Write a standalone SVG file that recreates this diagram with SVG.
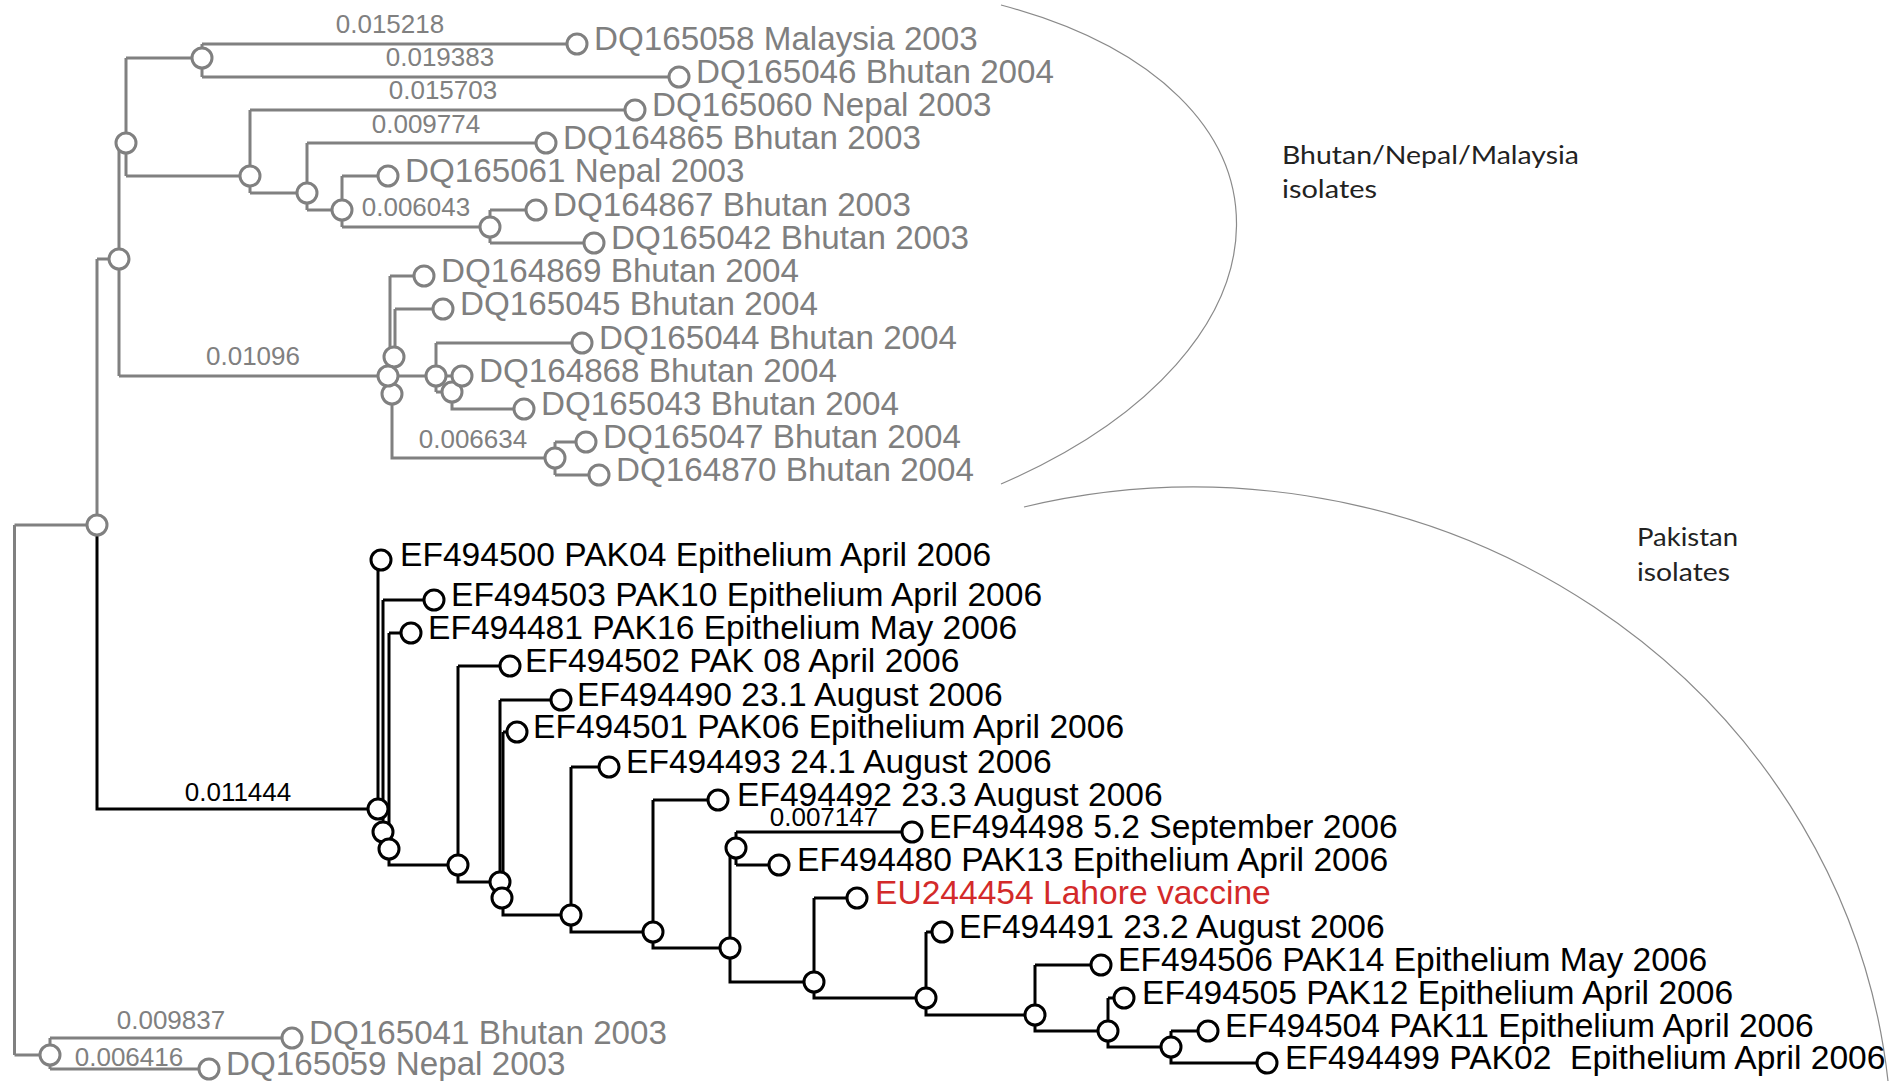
<svg xmlns="http://www.w3.org/2000/svg" width="1901" height="1081" viewBox="0 0 1901 1081">
<style>
.lg{fill:none;stroke:#808080;stroke-width:3}
.lb{fill:none;stroke:#000;stroke-width:3}
.ng{fill:#fff;stroke:#808080;stroke-width:3}
.nb{fill:#fff;stroke:#000;stroke-width:3}
.tg{font-family:"Liberation Sans",Arial,sans-serif;font-size:33.2px;fill:#7f7f7f}
.tb{font-family:"Liberation Sans",Arial,sans-serif;font-size:33.6px;fill:#000}
.tr{font-family:"Liberation Sans",Arial,sans-serif;font-size:33.6px;fill:#d32a2a}
.blg{font-family:"Liberation Sans",Arial,sans-serif;font-size:26px;fill:#808080;text-anchor:middle}
.blb{font-family:"Liberation Sans",Arial,sans-serif;font-size:26px;fill:#000;text-anchor:middle}
.arc{fill:none;stroke:#8a8a8a;stroke-width:1.2}
.grp{font-family:"Lato","Liberation Sans",sans-serif;font-weight:400;font-size:25px;fill:#222}
</style>
<rect width="1901" height="1081" fill="#fff"/>
<g id="group-outlines">
<path class="arc" d="M1001,5 C1320,90 1310,350 1001,484"/>
<path class="arc" d="M1024,507 A698,663 0 0,1 1888,1081"/>
</g>
<g id="connectors">
<path class="lg" d="M14.5,525 V1055 M14.5,525 H97 M14.5,1055 H50"/>
<path class="lg" d="M97,259 V525 M97,259 H119"/>
<path class="lg" d="M119,143 V376 M119,143 H126 M119,376 H388"/>
<path class="lg" d="M126,58 V176 M126,58 H202 M126,176 H250"/>
<path class="lg" d="M202,44 V77 M202,44 H577 M202,77 H679"/>
<path class="lg" d="M250,110 V193 M250,110 H635 M250,193 H307"/>
<path class="lg" d="M307,143 V210 M307,143 H546 M307,210 H342"/>
<path class="lg" d="M342,176 V227 M342,176 H388 M342,227 H490"/>
<path class="lg" d="M490,210 V243 M490,210 H536 M490,243 H594"/>
<path class="lg" d="M390,276 V376 M390,276 H424"/>
<path class="lg" d="M395,309 V357 M395,309 H443"/>
<path class="lg" d="M388,376 H436"/>
<path class="lg" d="M392,392 V458 H555"/>
<path class="lg" d="M436,343 V392 M436,343 H582 M436,376 H462 M436,392 H452"/>
<path class="lg" d="M452,392 V409 H524"/>
<path class="lg" d="M555,442 V475 M555,442 H586 M555,475 H599"/>
<path class="lg" d="M50,1038 V1069 M50,1038 H292 M50,1069 H209"/>
<path class="lb" d="M97,525 V809 H378"/>
<path class="lb" d="M378,560 V809"/>
<path class="lb" d="M383,600 V832 M383,600 H434"/>
<path class="lb" d="M389,633 V865 H458 M389,633 H411"/>
<path class="lb" d="M458,666 V882 H500 M458,666 H510"/>
<path class="lb" d="M500,700 V898 M500,700 H561"/>
<path class="lb" d="M503,732 V915 H571 M503,732 H517"/>
<path class="lb" d="M571,767 V932 H653 M571,767 H609"/>
<path class="lb" d="M653,800 V948 H730 M653,800 H718"/>
<path class="lb" d="M730,848 V982 H814 M730,848 H736"/>
<path class="lb" d="M736,832 V865 M736,832 H912 M736,865 H779"/>
<path class="lb" d="M814,898 V998 H926 M814,898 H857"/>
<path class="lb" d="M926,932 V1015 H1035 M926,932 H942"/>
<path class="lb" d="M1035,965 V1031 H1108 M1035,965 H1101"/>
<path class="lb" d="M1108,998 V1047 H1171 M1108,998 H1124"/>
<path class="lb" d="M1171,1031 V1063 H1267 M1171,1031 H1208"/>
</g>
<g id="branch-labels">
<text class="blg" x="390" y="33">0.015218</text>
<text class="blg" x="440" y="66">0.019383</text>
<text class="blg" x="443" y="99">0.015703</text>
<text class="blg" x="426" y="133">0.009774</text>
<text class="blg" x="416" y="216">0.006043</text>
<text class="blg" x="253" y="365">0.01096</text>
<text class="blg" x="473" y="448">0.006634</text>
<text class="blg" x="171" y="1029">0.009837</text>
<text class="blg" x="129" y="1066">0.006416</text>
<text class="blb" x="238" y="801">0.011444</text>
<text class="blb" x="824" y="826">0.007147</text>
</g>
<g id="internal-nodes">
<circle id="nA" class="ng" cx="97" cy="525" r="10"/>
<circle id="nC" class="ng" cx="119" cy="259" r="10"/>
<circle id="nD" class="ng" cx="126" cy="143" r="10"/>
<circle id="nE" class="ng" cx="202" cy="58" r="10"/>
<circle id="nF" class="ng" cx="250" cy="176" r="10"/>
<circle id="nG" class="ng" cx="307" cy="193" r="10"/>
<circle id="nH" class="ng" cx="342" cy="210" r="10"/>
<circle id="nI" class="ng" cx="490" cy="227" r="10"/>
<circle id="nN1a" class="ng" cx="394" cy="357" r="10"/>
<circle id="nN1b" class="ng" cx="392" cy="394" r="10"/>
<circle id="nN1" class="ng" cx="388" cy="376" r="10"/>
<circle id="nN2" class="ng" cx="436" cy="376" r="10"/>
<circle id="nN2b" class="ng" cx="452" cy="392" r="10"/>
<circle id="nN3" class="ng" cx="555" cy="458" r="10"/>
<circle id="nB" class="ng" cx="50" cy="1055" r="10"/>
<circle id="nP0" class="nb" cx="378" cy="809" r="10"/>
<circle id="nP1" class="nb" cx="383" cy="832" r="10"/>
<circle id="nP2" class="nb" cx="389" cy="849" r="10"/>
<circle id="nP3" class="nb" cx="458" cy="865" r="10"/>
<circle id="nP4" class="nb" cx="500" cy="882" r="10"/>
<circle id="nP5" class="nb" cx="502" cy="898" r="10"/>
<circle id="nP6" class="nb" cx="571" cy="915" r="10"/>
<circle id="nP7" class="nb" cx="653" cy="932" r="10"/>
<circle id="nP8a" class="nb" cx="736" cy="848" r="10"/>
<circle id="nP8" class="nb" cx="730" cy="948" r="10"/>
<circle id="nP9" class="nb" cx="814" cy="982" r="10"/>
<circle id="nP10" class="nb" cx="926" cy="998" r="10"/>
<circle id="nP11" class="nb" cx="1035" cy="1015" r="10"/>
<circle id="nP12" class="nb" cx="1108" cy="1031" r="10"/>
<circle id="nP13" class="nb" cx="1171" cy="1047" r="10"/>
</g>
<g id="leaf-DQ165058"><circle class="ng" cx="577" cy="44" r="10"/><text class="tg" x="594" y="50">DQ165058 Malaysia 2003</text></g>
<g id="leaf-DQ165046"><circle class="ng" cx="679" cy="77" r="10"/><text class="tg" x="696" y="83">DQ165046 Bhutan 2004</text></g>
<g id="leaf-DQ165060"><circle class="ng" cx="635" cy="110" r="10"/><text class="tg" x="652" y="116">DQ165060 Nepal 2003</text></g>
<g id="leaf-DQ164865"><circle class="ng" cx="546" cy="143" r="10"/><text class="tg" x="563" y="149">DQ164865 Bhutan 2003</text></g>
<g id="leaf-DQ165061"><circle class="ng" cx="388" cy="176" r="10"/><text class="tg" x="405" y="182">DQ165061 Nepal 2003</text></g>
<g id="leaf-DQ164867"><circle class="ng" cx="536" cy="210" r="10"/><text class="tg" x="553" y="216">DQ164867 Bhutan 2003</text></g>
<g id="leaf-DQ165042"><circle class="ng" cx="594" cy="243" r="10"/><text class="tg" x="611" y="249">DQ165042 Bhutan 2003</text></g>
<g id="leaf-DQ164869"><circle class="ng" cx="424" cy="276" r="10"/><text class="tg" x="441" y="282">DQ164869 Bhutan 2004</text></g>
<g id="leaf-DQ165045"><circle class="ng" cx="443" cy="309" r="10"/><text class="tg" x="460" y="315">DQ165045 Bhutan 2004</text></g>
<g id="leaf-DQ165044"><circle class="ng" cx="582" cy="343" r="10"/><text class="tg" x="599" y="349">DQ165044 Bhutan 2004</text></g>
<g id="leaf-DQ164868"><circle class="ng" cx="462" cy="376" r="10"/><text class="tg" x="479" y="382">DQ164868 Bhutan 2004</text></g>
<g id="leaf-DQ165043"><circle class="ng" cx="524" cy="409" r="10"/><text class="tg" x="541" y="415">DQ165043 Bhutan 2004</text></g>
<g id="leaf-DQ165047"><circle class="ng" cx="586" cy="442" r="10"/><text class="tg" x="603" y="448">DQ165047 Bhutan 2004</text></g>
<g id="leaf-DQ164870"><circle class="ng" cx="599" cy="475" r="10"/><text class="tg" x="616" y="481">DQ164870 Bhutan 2004</text></g>
<g id="leaf-DQ165041"><circle class="ng" cx="292" cy="1038" r="10"/><text class="tg" x="309" y="1044">DQ165041 Bhutan 2003</text></g>
<g id="leaf-DQ165059"><circle class="ng" cx="209" cy="1069" r="10"/><text class="tg" x="226" y="1075">DQ165059 Nepal 2003</text></g>
<g id="leaf-EF494500"><circle class="nb" cx="381" cy="560" r="10"/><text class="tb" x="400" y="566">EF494500 PAK04 Epithelium April 2006</text></g>
<g id="leaf-EF494503"><circle class="nb" cx="434" cy="600" r="10"/><text class="tb" x="451" y="606">EF494503 PAK10 Epithelium April 2006</text></g>
<g id="leaf-EF494481"><circle class="nb" cx="411" cy="633" r="10"/><text class="tb" x="428" y="639">EF494481 PAK16 Epithelium May 2006</text></g>
<g id="leaf-EF494502"><circle class="nb" cx="510" cy="666" r="10"/><text class="tb" x="525" y="672">EF494502 PAK 08 April 2006</text></g>
<g id="leaf-EF494490"><circle class="nb" cx="561" cy="700" r="10"/><text class="tb" x="577" y="706">EF494490 23.1 August 2006</text></g>
<g id="leaf-EF494501"><circle class="nb" cx="517" cy="732" r="10"/><text class="tb" x="533" y="738">EF494501 PAK06 Epithelium April 2006</text></g>
<g id="leaf-EF494493"><circle class="nb" cx="609" cy="767" r="10"/><text class="tb" x="626" y="773">EF494493 24.1 August 2006</text></g>
<g id="leaf-EF494492"><circle class="nb" cx="718" cy="800" r="10"/><text class="tb" x="737" y="806">EF494492 23.3 August 2006</text></g>
<g id="leaf-EF494498"><circle class="nb" cx="912" cy="832" r="10"/><text class="tb" x="929" y="838">EF494498 5.2 September 2006</text></g>
<g id="leaf-EF494480"><circle class="nb" cx="779" cy="865" r="10"/><text class="tb" x="797" y="871">EF494480 PAK13 Epithelium April 2006</text></g>
<g id="leaf-EU244454"><circle class="nb" cx="857" cy="898" r="10"/><text class="tr" x="875" y="904">EU244454 Lahore vaccine</text></g>
<g id="leaf-EF494491"><circle class="nb" cx="942" cy="932" r="10"/><text class="tb" x="959" y="938">EF494491 23.2 August 2006</text></g>
<g id="leaf-EF494506"><circle class="nb" cx="1101" cy="965" r="10"/><text class="tb" x="1118" y="971">EF494506 PAK14 Epithelium May 2006</text></g>
<g id="leaf-EF494505"><circle class="nb" cx="1124" cy="998" r="10"/><text class="tb" x="1142" y="1004">EF494505 PAK12 Epithelium April 2006</text></g>
<g id="leaf-EF494504"><circle class="nb" cx="1208" cy="1031" r="10"/><text class="tb" x="1225" y="1037">EF494504 PAK11 Epithelium April 2006</text></g>
<g id="leaf-EF494499"><circle class="nb" cx="1267" cy="1063" r="10"/><text class="tb" x="1285" y="1069" xml:space="preserve">EF494499 PAK02  Epithelium April 2006</text></g>
<g id="label-bhutan">
<text class="grp" x="1282" y="164" textLength="297" lengthAdjust="spacingAndGlyphs">Bhutan/Nepal/Malaysia</text>
<text class="grp" x="1282" y="198" textLength="95" lengthAdjust="spacingAndGlyphs">isolates</text>
</g>
<g id="label-pakistan">
<text class="grp" x="1637" y="546" textLength="101" lengthAdjust="spacingAndGlyphs">Pakistan</text>
<text class="grp" x="1637" y="581" textLength="93" lengthAdjust="spacingAndGlyphs">isolates</text>
</g>
</svg>
